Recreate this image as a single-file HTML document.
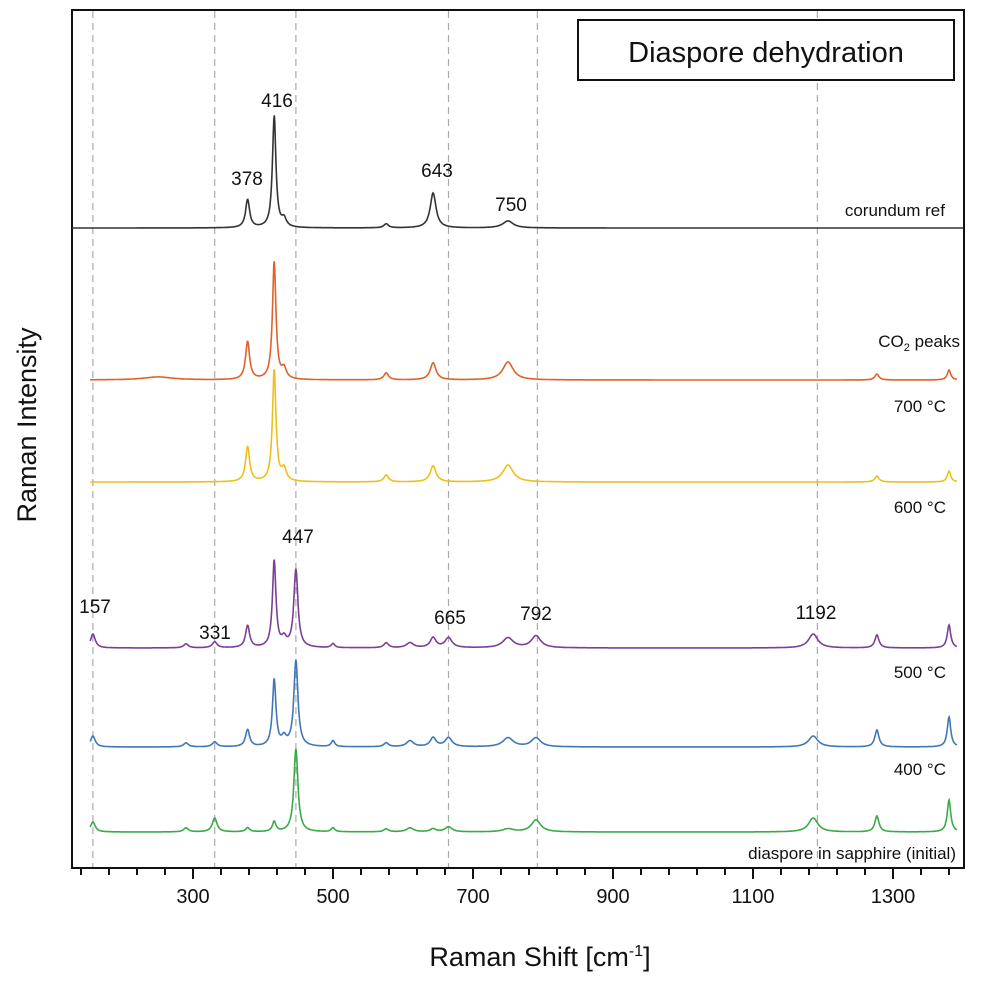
<!DOCTYPE html>
<html><head><meta charset="utf-8"><style>
body{margin:0;background:#fff;}
svg text{font-family:"Liberation Sans","DejaVu Sans",sans-serif;fill:#111;}
</style></head><body>
<svg id="c" width="982" height="980" xmlns="http://www.w3.org/2000/svg">
<rect x="72" y="10" width="892" height="858" fill="none" stroke="#111" stroke-width="2"/>
<g id="grid"></g><g id="ticks"></g><g id="traces"></g>
<rect x="578" y="20" width="376" height="60" fill="#fff" stroke="#111" stroke-width="2"/>
<text x="766" y="62" font-size="29" text-anchor="middle">Diaspore dehydration</text>
<text x="540" y="966" font-size="27" text-anchor="middle">Raman Shift [cm<tspan dy="-10" font-size="16">-1</tspan><tspan dy="10">]</tspan></text>
<text transform="translate(36,425) rotate(-90)" font-size="27" text-anchor="middle">Raman Intensity</text>
<text x="945" y="216" font-size="17" text-anchor="end">corundum ref</text>
<text x="960" y="347" font-size="17" text-anchor="end">CO<tspan font-size="11" dy="4">2</tspan><tspan dy="-4"> peaks</tspan></text>
<text x="946" y="412" font-size="17" text-anchor="end">700 °C</text>
<text x="946" y="513" font-size="17" text-anchor="end">600 °C</text>
<text x="946" y="678" font-size="17" text-anchor="end">500 °C</text>
<text x="946" y="775" font-size="17" text-anchor="end">400 °C</text>
<text x="956" y="859" font-size="17" text-anchor="end">diaspore in sapphire (initial)</text>
<g id="ann"></g>
</svg>
<script>
const xTicks=[300,500,700,900,1100,1300];
const dashLines=[157,331,447,665,792,1192];
const annVals=[157,331,447,665,792,1192,378,416,643,750];
const seriesNames=["corundum","700C","600C","500C","400C","initial"];
const seriesColors=["#333333","#e0622a","#eebf1c","#7b3f98","#3f78b8","#3aaa48"];
const seriesBase=[228,380,482,648,747,832];
const peakPos=[250,157,290,331,378,416,430,447,500,576,610,643,665,750,790,1186,1277,1380];
const peakWid=[25,4,4,4,3.5,3,4,3.5,3,4,6,5,6,9,8,8,3.5,3];
const corundumH=[0,0,0,0,28,112,8,0,0,4,0,35,0,7,0,0,0,0];
const h700=[3,0,0,0,38,118,10,0,0,7,0,17,0,18,0,0,6,10];
const h600=[0,0,0,0,35,112,12,0,0,7,0,16,0,17,0,0,6,11];
const h500=[0,14,4,6,22,87,8,78,4,5,5,10,10,10,12,14,13,23];
const h400=[0,11,4,5,17,67,8,86,6,4,6,9,9,9,9,11,17,30];
const hInit=[0,10,4,14,4,10,0,83,4,3,4,3,5,3,12,14,16,32];
const heights=[corundumH,h700,h600,h500,h400,hInit];
const xs=v=>193+(v-300)*0.7;
const NS="http://www.w3.org/2000/svg";
function mk(t,a,p){const e=document.createElementNS(NS,t);for(const k in a)e.setAttribute(k,a[k]);p.appendChild(e);return e;}
const grid=document.getElementById('grid');
dashLines.forEach(v=>{const l=mk('line',{x1:xs(v),x2:xs(v),y1:11,y2:867,stroke:'#aaa','stroke-width':1.2,'stroke-dasharray':'7,5'},grid);

});
const tk=document.getElementById('ticks');
for(let v=140;v<=1400;v+=40){const maj=xTicks.includes(v);const l=mk('line',{x1:xs(v),x2:xs(v),y1:869,y2:maj?879:875,stroke:'#111','stroke-width':2},tk);

}
xTicks.forEach(v=>{const t=mk('text',{x:xs(v),y:903,'font-size':20,'text-anchor':'middle'},tk);t.textContent=v;

});
const tr=document.getElementById('traces');
heights.forEach((H,i)=>{let d='';const start=i==0?127:153,end=i==0?1401:1392;
for(let v=start;v<=end;v+=0.7){let y=0;for(let j=0;j<peakPos.length;j++){const w=peakWid[j],dx=v-peakPos[j];y+=H[j]/(1+dx*dx/(w*w));}
d+=(d?'L':'M')+xs(v).toFixed(1)+','+(seriesBase[i]-y).toFixed(1);}
const p=mk('path',{d:d,fill:'none',stroke:seriesColors[i],'stroke-width':1.6},tr);

});
const annPos=[[95,613],[215,639],[298,543],[450,624],[536,620],[816,619],[247,185],[277,107],[437,177],[511,211]];
const an=document.getElementById('ann');
annVals.forEach((v,i)=>{const t=mk('text',{x:annPos[i][0],y:annPos[i][1],'font-size':19,'text-anchor':'middle'},an);t.textContent=v;

});
</script>
</body></html>
